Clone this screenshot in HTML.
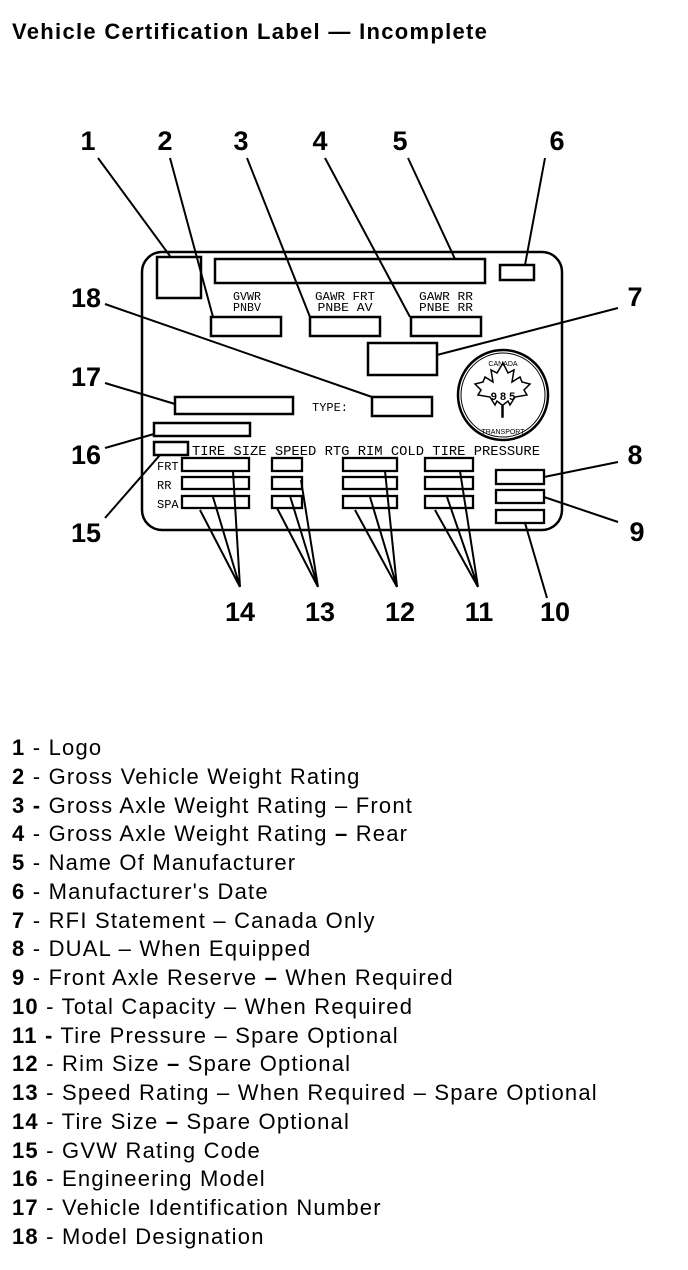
<!DOCTYPE html>
<html><head><meta charset="utf-8"><style>
html,body{margin:0;padding:0;background:#fff;}
body{width:688px;height:1270px;position:relative;overflow:hidden;font-family:"Liberation Sans",Arial,sans-serif;color:#000;}
.t{position:absolute;left:12px;top:19px;font-size:22px;font-weight:bold;letter-spacing:1.3px;}
.l{position:absolute;left:12px;font-size:22px;line-height:24px;white-space:nowrap;letter-spacing:1.2px;}
.l b{font-weight:bold;}
svg{position:absolute;left:0;top:0;}
</style></head><body>
<div class="t">Vehicle Certification Label — Incomplete</div>
<svg width="688" height="700" viewBox="0 0 688 700">
<g fill="none" stroke="#000" stroke-width="2.5">
<rect x="142" y="252" width="420" height="278" rx="20"/>
<rect x="157" y="257" width="44" height="41"/>
<rect x="215" y="259" width="270" height="24"/>
<rect x="500" y="265" width="34" height="15"/>
<rect x="211" y="317" width="70" height="19"/>
<rect x="310" y="317" width="70" height="19"/>
<rect x="411" y="317" width="70" height="19"/>
<rect x="368" y="343" width="69" height="32"/>
<rect x="175" y="397" width="118" height="17"/>
<rect x="372" y="397" width="60" height="19"/>
<rect x="154" y="423" width="96" height="13"/>
<rect x="154" y="442" width="34" height="13"/>
<g stroke-width="2.3">
<rect x="182" y="458" width="67" height="13"/><rect x="182" y="477" width="67" height="12"/><rect x="182" y="496" width="67" height="12"/>
<rect x="272" y="458" width="30" height="13"/><rect x="272" y="477" width="30" height="12"/><rect x="272" y="496" width="30" height="12"/>
<rect x="343" y="458" width="54" height="13"/><rect x="343" y="477" width="54" height="12"/><rect x="343" y="496" width="54" height="12"/>
<rect x="425" y="458" width="48" height="13"/><rect x="425" y="477" width="48" height="12"/><rect x="425" y="496" width="48" height="12"/>
<rect x="496" y="470" width="48" height="14"/><rect x="496" y="490" width="48" height="13"/><rect x="496" y="510" width="48" height="13"/>
</g>
<circle cx="503" cy="395" r="45"/>
<circle cx="503" cy="395" r="42" stroke-width="1"/>
<path d="M503 363 l5 10 6-3 -2 12 8-5 2 5 8 2 -6 6 3 5 -12 2 -5 8 -2 -4 -5 4 0 12 -1 0 0 -12 -5 -4 -2 4 -5 -8 -12 -2 3 -5 -6 -6 8 -2 2 -5 8 5 -2 -12 6 3z" stroke-width="1.5"/>
</g>
<g stroke="#000" stroke-width="2" fill="none">
<line x1="98" y1="158" x2="170" y2="256"/>
<line x1="170" y1="158" x2="213" y2="317"/>
<line x1="247" y1="158" x2="310" y2="317"/>
<line x1="325" y1="158" x2="410" y2="317"/>
<line x1="408" y1="158" x2="455" y2="259"/>
<line x1="545" y1="158" x2="525" y2="265"/>
<line x1="105" y1="304" x2="372" y2="397"/>
<line x1="618" y1="308" x2="437" y2="355"/>
<line x1="105" y1="383" x2="175" y2="404"/>
<line x1="105" y1="448" x2="154" y2="434"/>
<line x1="105" y1="518" x2="160" y2="455"/>
<line x1="618" y1="462" x2="544" y2="477"/>
<line x1="618" y1="522" x2="544" y2="497"/>
<line x1="547" y1="598" x2="525" y2="523"/>
<path d="M240 587 L200 510 M240 587 L213 497 M240 587 L233 471"/>
<path d="M318 587 L277 508 M318 587 L290 496 M318 587 L301 480"/>
<path d="M397 587 L355 510 M397 587 L370 497 M397 587 L385 471"/>
<path d="M478 587 L435 510 M478 587 L447 497 M478 587 L460 471"/>
</g>
<g font-family="Liberation Mono,monospace" font-size="12" text-anchor="middle">
<text x="247" y="300" textLength="28" lengthAdjust="spacingAndGlyphs">GVWR</text>
<text x="247" y="311" textLength="28" lengthAdjust="spacingAndGlyphs">PNBV</text>
<text x="345" y="300" textLength="60" lengthAdjust="spacingAndGlyphs">GAWR FRT</text>
<text x="345" y="311" textLength="55" lengthAdjust="spacingAndGlyphs">PNBE AV</text>
<text x="446" y="300" textLength="54" lengthAdjust="spacingAndGlyphs">GAWR RR</text>
<text x="446" y="311" textLength="54" lengthAdjust="spacingAndGlyphs">PNBE RR</text>
<text x="330" y="411" textLength="36" lengthAdjust="spacingAndGlyphs">TYPE:</text>
</g>
<g font-family="Liberation Mono,monospace" font-size="14">
<text x="192" y="455" textLength="348" lengthAdjust="spacingAndGlyphs">TIRE SIZE SPEED RTG  RIM  COLD TIRE PRESSURE</text>
<text x="157" y="470" font-size="12">FRT</text>
<text x="157" y="489" font-size="12">RR</text>
<text x="157" y="508" font-size="12">SPA</text>
</g>
<g font-family="Liberation Sans,Arial,sans-serif" font-size="7" text-anchor="middle">
<text x="503" y="366">CANADA</text><text x="503" y="434">TRANSPORT</text>
<text x="503" y="400" font-size="11" font-weight="bold">9 8 5</text>
</g>
<g font-family="Liberation Sans,Arial,sans-serif" font-size="27" font-weight="bold" text-anchor="middle">
<text x="88" y="150">1</text><text x="165" y="150">2</text><text x="241" y="150">3</text>
<text x="320" y="150">4</text><text x="400" y="150">5</text><text x="557" y="150">6</text>
<text x="86" y="307">18</text><text x="635" y="306">7</text><text x="86" y="386">17</text>
<text x="86" y="464">16</text><text x="86" y="542">15</text><text x="635" y="464">8</text>
<text x="637" y="541">9</text>
<text x="240" y="621">14</text><text x="320" y="621">13</text><text x="400" y="621">12</text>
<text x="479" y="621">11</text><text x="555" y="621">10</text>
</g>
</svg>
<div class="l" style="top:736px"><b>1</b> - Logo</div>
<div class="l" style="top:765px"><b>2</b> - Gross Vehicle Weight Rating</div>
<div class="l" style="top:794px"><b>3 -</b> Gross Axle Weight Rating – Front</div>
<div class="l" style="top:822px"><b>4</b> - Gross Axle Weight Rating <b>–</b> Rear</div>
<div class="l" style="top:851px"><b>5</b> - Name Of Manufacturer</div>
<div class="l" style="top:880px"><b>6</b> - Manufacturer's Date</div>
<div class="l" style="top:909px"><b>7</b> - RFI Statement – Canada Only</div>
<div class="l" style="top:937px"><b>8</b> - DUAL – When Equipped</div>
<div class="l" style="top:966px"><b>9</b> - Front Axle Reserve <b>–</b> When Required</div>
<div class="l" style="top:995px"><b>10</b> - Total Capacity – When Required</div>
<div class="l" style="top:1024px"><b>11 -</b> Tire Pressure – Spare Optional</div>
<div class="l" style="top:1052px"><b>12</b> - Rim Size <b>–</b> Spare Optional</div>
<div class="l" style="top:1081px"><b>13</b> - Speed Rating – When Required – Spare Optional</div>
<div class="l" style="top:1110px"><b>14</b> - Tire Size <b>–</b> Spare Optional</div>
<div class="l" style="top:1139px"><b>15</b> - GVW Rating Code</div>
<div class="l" style="top:1167px"><b>16</b> - Engineering Model</div>
<div class="l" style="top:1196px"><b>17</b> - Vehicle Identification Number</div>
<div class="l" style="top:1225px"><b>18</b> - Model Designation</div>
</body></html>
